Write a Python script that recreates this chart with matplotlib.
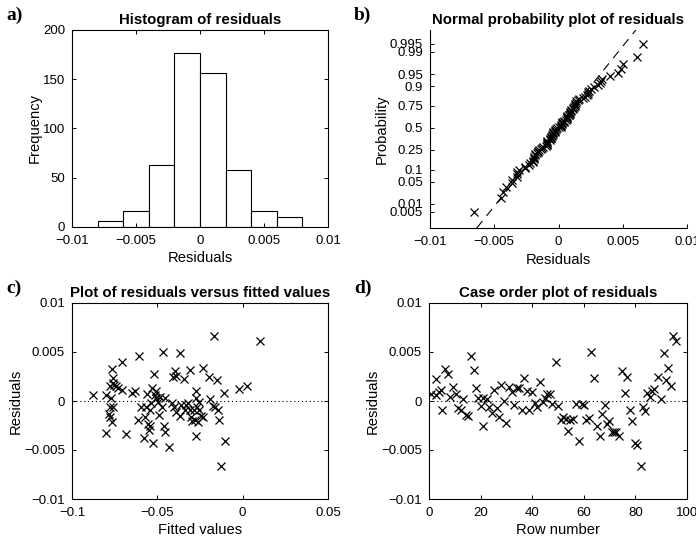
import numpy as np
import matplotlib
matplotlib.use('Agg')
import matplotlib.pyplot as plt
from matplotlib.ticker import FuncFormatter
from statistics import NormalDist

# histogram of residuals
bin_edges = [-0.008, -0.006, -0.004, -0.002, 0.0, 0.002, 0.004, 0.006, 0.008]
bin_counts = [6, 16, 63, 177, 156, 58, 16, 10]

# residuals in case order (rows 1..N)
residuals = [0.0007, 0.0022, 0.0006, 0.0009, 0.0011, -0.0009, 0.0033, 0.0028,
             0.0004, 0.0014, 0.0007, -0.0007, -0.0009, 0.0002, -0.0014, -0.0015,
             0.0046, 0.0032, 0.0013, 0.0003, -0.0005, -0.0026, 0.0003, 0.0002,
             -0.0006, -0.0012, 0.0011, -0.0007, -0.0016, 0.0016, 0.0000, -0.0022,
             0.0014, 0.0009, -0.0004, 0.0013, 0.0013, -0.0009, 0.0023, 0.0010,
             -0.0009, 0.0009, -0.0002, -0.0006, 0.0019, -0.0001, 0.0003, 0.0007,
             0.0007, -0.0003, 0.0040, -0.0005, -0.0019, -0.0016, -0.0018, -0.0031,
             -0.0019, -0.0018, -0.0003, -0.0041, -0.0003, -0.0004, -0.0019, -0.0017,
             0.0050, 0.0023, -0.0026, -0.0036, -0.0013, -0.0004, -0.0023, -0.0020,
             -0.0032, -0.0032, -0.0032, -0.0036, 0.0031, 0.0008, 0.0025, -0.0009,
             -0.0020, -0.0043, -0.0045, -0.0066, -0.0006, -0.0010, 0.0008, 0.0004,
             0.0010, 0.0012, 0.0024, 0.0002, 0.0049, 0.0021, 0.0034, 0.0015,
             0.0066, 0.0061]
row_number = [0.8, 2.7, 2.7, 4.0, 4.5, 5.0, 6.3, 7.4, 8.0, 9.4, 10.4, 11.4,
              12.4, 13.3, 14.2, 15.2, 16.3, 17.4, 18.2, 19.0, 20.0, 21.0, 21.0,
              22.3, 23.3, 24.3, 25.3, 26.2, 27.2, 28.1, 29.0, 30.0, 31.1, 32.0,
              33.0, 34.0, 34.9, 35.9, 36.8, 37.8, 38.8, 39.8, 41.0, 42.0, 43.2,
              44.0, 44.9, 45.8, 46.8, 47.7, 49.2, 50.1, 51.0, 52.0, 53.0, 53.9,
              54.8, 55.8, 57.1, 58.2, 59.3, 60.1, 61.0, 62.0, 62.9, 64.0, 65.1,
              66.2, 67.1, 68.1, 68.8, 69.8, 70.8, 71.7, 72.6, 73.7, 74.9, 75.9,
              76.8, 77.8, 78.8, 79.7, 80.8, 82.0, 82.9, 83.9, 84.6, 85.5, 86.4,
              87.2, 88.8, 89.8, 91.0, 91.7, 92.6, 93.9, 94.6, 95.6]

# residuals versus fitted values
fitted_x = [-0.0877, -0.0800, -0.0800, -0.0786, -0.0780, -0.0778, -0.0774, -0.0768,
            -0.0768, -0.0762, -0.0780, -0.0760, -0.0751, -0.0741, -0.0730, -0.0760,
            -0.0709, -0.0705, -0.0686, -0.0647, -0.0633, -0.0607, -0.0613, -0.0594,
            -0.0580, -0.0575, -0.0565, -0.0559, -0.0555, -0.0550, -0.0545, -0.0541,
            -0.0535, -0.0530, -0.0526, -0.0520, -0.0516, -0.0510, -0.0506, -0.0496,
            -0.0490, -0.0487, -0.0470, -0.0467, -0.0463, -0.0458, -0.0458, -0.0432,
            -0.0413, -0.0409, -0.0405, -0.0399, -0.0393, -0.0390, -0.0370, -0.0370,
            -0.0360, -0.0346, -0.0340, -0.0331, -0.0321, -0.0311, -0.0307, -0.0302,
            -0.0296, -0.0286, -0.0282, -0.0276, -0.0273, -0.0273, -0.0269, -0.0263,
            -0.0257, -0.0253, -0.0243, -0.0234, -0.0230, -0.0199, -0.0191, -0.0175,
            -0.0166, -0.0160, -0.0152, -0.0146, -0.0136, -0.0127, -0.0111, -0.0101,
            -0.0019, 0.0027, 0.0103]
fitted_res = [0.0006, 0.0006, -0.0033, -0.0013, -0.0016, -0.0006, 0.0003, -0.0021,
              0.0033, 0.0023, 0.0015, 0.0018, 0.0016, 0.0015, 0.0013, -0.0006,
              0.0011, 0.0040, -0.0034, 0.0008, 0.0010, 0.0046, -0.0019, -0.0006,
              -0.0038, -0.0016, -0.0006, 0.0007, -0.0023, -0.0030, -0.0009, -0.0026,
              -0.0002, 0.0013, -0.0043, 0.0028, 0.0006, 0.0010, 0.0003, -0.0001,
              -0.0014, 0.0004, -0.0006, 0.0050, -0.0025, -0.0032, 0.0003, -0.0047,
              -0.0002, 0.0025, -0.0006, 0.0031, -0.0011, 0.0026, 0.0049, -0.0015,
              -0.0004, 0.0022, -0.0009, -0.0004, -0.0002, -0.0009, 0.0032, -0.0016,
              -0.0020, -0.0009, -0.0019, 0.0010, 0.0003, -0.0036, -0.0006, -0.0021,
              -0.0001, -0.0009, -0.0015, 0.0034, -0.0016, 0.0024, 0.0002, -0.0005,
              0.0066, -0.0006, 0.0021, -0.0009, -0.0019, -0.0066, 0.0008, -0.0041,
              0.0012, 0.0015, 0.0061]

prob_ticks = [0.005, 0.01, 0.05, 0.1, 0.25, 0.5, 0.75, 0.9, 0.95, 0.99, 0.995]

plt.rcParams['font.family'] = ['Liberation Sans', 'DejaVu Sans']
plt.rcParams['font.size'] = 9.5
plt.rcParams['axes.linewidth'] = 0.8
plt.rcParams['xtick.direction'] = 'in'
plt.rcParams['ytick.direction'] = 'in'
plt.rcParams['xtick.major.size'] = 3
plt.rcParams['ytick.major.size'] = 3
plt.rcParams['xtick.major.width'] = 0.7
plt.rcParams['ytick.major.width'] = 0.7
plt.rcParams['xtick.major.pad'] = 6
plt.rcParams['ytick.major.pad'] = 5


def fmt(v, pos):
    if abs(v) < 1e-12:
        return '0'
    return ('%g' % round(v, 6)).replace('-', '\u2212')


W, H = 696, 543
fig = plt.figure(figsize=(W / 100, H / 100), dpi=100)


def add_ax(l, r, t, b):
    return fig.add_axes([l / W, 1 - b / H, (r - l) / W, (b - t) / H])


ax_a = add_ax(72, 328, 30, 227)
ax_b = add_ax(430, 687, 30, 228)
ax_c = add_ax(72, 328, 303, 499)
ax_d = add_ax(429, 687, 303, 499)

title_kw = dict(fontsize=10.8, fontweight='bold', pad=4)
xlabel_kw = dict(fontsize=10.6, labelpad=3)
ylabel_kw = dict(fontsize=10.6, labelpad=1)
mk = dict(marker='x', color='black', linestyle='none', markersize=5.5, markeredgewidth=0.9)

for ax in (ax_a, ax_c, ax_d):
    ax.tick_params(top=True, right=True)

# a) histogram
widths = np.diff(bin_edges)
ax_a.bar(bin_edges[:-1], bin_counts, width=widths, align='edge',
         facecolor='white', edgecolor='black', linewidth=0.8)
ax_a.set_xlim(-0.01, 0.01)
ax_a.set_ylim(0, 200)
ax_a.set_xticks([-0.01, -0.005, 0, 0.005, 0.01])
ax_a.set_yticks([0, 50, 100, 150, 200])
ax_a.xaxis.set_major_formatter(FuncFormatter(fmt))
ax_a.set_title('Histogram of residuals', **title_kw)
ax_a.set_xlabel('Residuals', **xlabel_kw)
ax_a.set_ylabel('Frequency', **ylabel_kw)

# b) normal probability plot
nd = NormalDist()
sorted_res = np.sort(residuals)
n = len(sorted_res)
zpos = [nd.inv_cdf((i - 0.5) / n) for i in range(1, n + 1)]
ax_b.plot(sorted_res, zpos, **mk)
q1, q3 = np.percentile(sorted_res, [25, 75])
p1, p3 = nd.inv_cdf(0.25), nd.inv_cdf(0.75)
ylo, yhi = -3.07, 3.0
zz = np.array([ylo, yhi])
ax_b.plot(q1 + (zz - p1) * (q3 - q1) / (p3 - p1), zz, color='black',
          linewidth=0.8, linestyle=(0, (8, 6)))
ax_b.set_xlim(-0.01, 0.01)
ax_b.set_ylim(ylo, yhi)
ax_b.set_xticks([-0.01, -0.005, 0, 0.005, 0.01])
ax_b.xaxis.set_major_formatter(FuncFormatter(fmt))
ax_b.set_yticks([nd.inv_cdf(p) for p in prob_ticks])
ax_b.set_yticklabels(['%g' % p for p in prob_ticks])
ax_b.spines['top'].set_visible(False)
ax_b.spines['right'].set_visible(False)
ax_b.set_title('Normal probability plot of residuals', **title_kw)
ax_b.set_xlabel('Residuals', **xlabel_kw)
ax_b.set_ylabel('Probability', **ylabel_kw)

# c) residuals vs fitted
ax_c.plot(fitted_x, fitted_res, **mk)
ax_c.axhline(0, color='black', linewidth=0.8, linestyle=(0, (1, 2.5)))
ax_c.set_xlim(-0.1, 0.05)
ax_c.set_ylim(-0.01, 0.01)
ax_c.set_xticks([-0.1, -0.05, 0, 0.05])
ax_c.set_yticks([-0.01, -0.005, 0, 0.005, 0.01])
ax_c.xaxis.set_major_formatter(FuncFormatter(fmt))
ax_c.yaxis.set_major_formatter(FuncFormatter(fmt))
ax_c.set_title('Plot of residuals versus fitted values', **title_kw)
ax_c.set_xlabel('Fitted values', **xlabel_kw)
ax_c.set_ylabel('Residuals', **ylabel_kw)

# d) case order plot
ax_d.plot(row_number, residuals, **mk)
ax_d.axhline(0, color='black', linewidth=0.8, linestyle=(0, (1, 2.5)))
ax_d.set_xlim(0, 100)
ax_d.set_ylim(-0.01, 0.01)
ax_d.set_xticks([0, 20, 40, 60, 80, 100])
ax_d.set_yticks([-0.01, -0.005, 0, 0.005, 0.01])
ax_d.yaxis.set_major_formatter(FuncFormatter(fmt))
ax_d.set_title('Case order plot of residuals', **title_kw)
ax_d.set_xlabel('Row number', **xlabel_kw)
ax_d.set_ylabel('Residuals', **ylabel_kw)

# panel letters
for txt, x, y in [('a)', 6, 15), ('b)', 354, 15), ('c)', 6, 288), ('d)', 354, 288)]:
    fig.text(x / W, 1 - y / H, txt, fontsize=14, fontweight='bold',
             family=['Liberation Serif', 'DejaVu Serif'], va='center', ha='left')

fig.savefig('out.png', dpi=100)
